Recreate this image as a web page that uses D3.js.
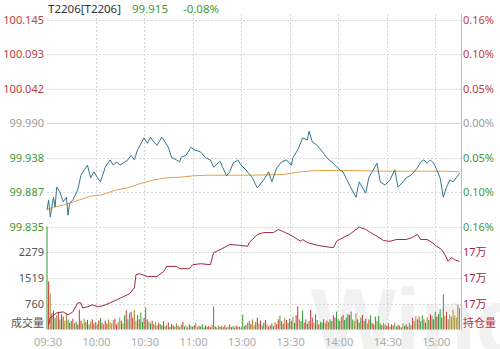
<!DOCTYPE html>
<html>
<head>
<meta charset="utf-8">
<script src="https://cdn.jsdelivr.net/npm/d3@7/dist/d3.min.js"></script>
<style>
  body { margin: 0; background: #fff; }
  text { font-family: "Noto Sans", "Noto Sans CJK SC", sans-serif; }
</style>
</head>
<body>
<div class="chart"></div>
<script>
// T2206 intraday chart

const code = "T2206[T2206]";
const lastPrice = 99.915;
const preClose = 99.990;
const timeLabels = ["09:30", "10:00", "10:30", "11:00", "13:00", "13:30", "14:00", "14:30", "15:00"];
const timeTicks = [0, 30, 60, 90, 120, 150, 180, 210, 240];

// price line (minute from 09:30, trading minutes only)
const priceMin = [0, 1, 2, 4, 5, 6, 8, 10, 12, 13, 14, 16, 19, 21, 23, 25, 27, 29, 31, 33, 34, 36, 39, 41, 43, 45, 47, 50, 52, 54, 56, 60, 62, 64, 66, 68, 71, 73, 75, 77, 80, 82, 83, 86, 89, 91, 95, 98, 101, 103, 107, 108, 111, 113, 115, 118, 120, 123, 127, 130, 134, 137, 139, 142, 145, 148, 151, 152, 155, 158, 161, 162, 164, 167, 170, 173, 176, 178, 181, 183, 187, 191, 193, 197, 199, 201, 204, 206, 209, 212, 215, 217, 220, 222, 225, 229, 231, 233, 235, 237, 239, 241, 243, 245, 247, 249, 251, 253, 255];
const priceVal = [99.860, 99.875, 99.849, 99.879, 99.864, 99.894, 99.887, 99.872, 99.879, 99.852, 99.870, 99.875, 99.890, 99.912, 99.920, 99.927, 99.908, 99.917, 99.909, 99.902, 99.909, 99.924, 99.935, 99.927, 99.932, 99.927, 99.930, 99.935, 99.942, 99.935, 99.950, 99.968, 99.960, 99.969, 99.962, 99.957, 99.969, 99.962, 99.954, 99.939, 99.935, 99.932, 99.939, 99.942, 99.954, 99.950, 99.947, 99.938, 99.935, 99.924, 99.933, 99.927, 99.911, 99.917, 99.930, 99.935, 99.927, 99.920, 99.908, 99.893, 99.905, 99.917, 99.902, 99.923, 99.932, 99.935, 99.927, 99.938, 99.950, 99.968, 99.965, 99.978, 99.962, 99.957, 99.948, 99.938, 99.932, 99.927, 99.920, 99.917, 99.897, 99.879, 99.902, 99.885, 99.909, 99.917, 99.930, 99.902, 99.897, 99.905, 99.920, 99.894, 99.902, 99.908, 99.912, 99.923, 99.932, 99.935, 99.930, 99.935, 99.930, 99.920, 99.908, 99.879, 99.894, 99.905, 99.902, 99.908, 99.915];

// average price line
const avgMin = [0, 4, 8, 14, 20, 28, 33, 43, 50, 57, 66, 74, 82, 90, 99, 113, 125, 146, 156, 167, 187, 208, 229, 249, 255];
const avgVal = [99.860, 99.864, 99.866, 99.870, 99.875, 99.881, 99.882, 99.890, 99.893, 99.899, 99.905, 99.908, 99.909, 99.911, 99.912, 99.912, 99.912, 99.913, 99.917, 99.919, 99.919, 99.918, 99.918, 99.918, 99.917];

// open interest
const oiMin = [1, 2, 6, 10, 13, 16, 19, 21, 22, 25, 28, 32, 36, 39, 43, 47, 51, 54, 55, 57, 62, 68, 72, 74, 80, 82, 88, 90, 95, 101, 103, 107, 113, 119, 124, 125, 130, 134, 140, 143, 146, 152, 155, 157, 158, 161, 167, 173, 177, 179, 183, 187, 191, 193, 197, 200, 204, 208, 212, 216, 222, 226, 229, 231, 235, 238, 241, 244, 246, 248, 250, 252, 255];
const oiVal = [166350, 166900, 167290, 167370, 167130, 167370, 168070, 168070, 167680, 167760, 167910, 167760, 167910, 168070, 168300, 168540, 168770, 169240, 170250, 170330, 170120, 170120, 170490, 170900, 170900, 170720, 170720, 171030, 171110, 171030, 171970, 172200, 172600, 172540, 172460, 172750, 173380, 173530, 173530, 173770, 173610, 173240, 172990, 172850, 172990, 172750, 172540, 172420, 172360, 172850, 173140, 173380, 173770, 173950, 173770, 173530, 173240, 172910, 172850, 172990, 172990, 173160, 173380, 172990, 172990, 172750, 172460, 172200, 171810, 171290, 171580, 171420, 171290];

// volume per minute, 09:30 .. 15:15
const volumes = [
  3100, 1420, 1060, 480, 560, 350, 420, 520, 300, 450,
  380, 260, 480, 300, 200, 250, 320, 180, 230, 150,
  580, 260, 180, 320, 220, 280, 150, 240, 300, 180,
  220, 160, 270, 340, 200, 150, 260, 180, 300, 220,
  180, 280, 320, 150, 220, 350, 260, 180, 420, 560,
  300, 480, 520, 350, 580, 260, 420, 300, 500, 220,
  350, 650, 300, 240, 180, 260, 150, 220, 120, 200,
  160, 120, 250, 100, 140, 200, 80, 160, 120, 90,
  180, 110, 70, 140, 220, 90, 120, 60, 150, 100,
  80, 130, 200, 70, 110, 90, 160, 60, 120, 80,
  100, 70, 140, 680, 90, 60, 120, 80, 110, 70,
  130, 60, 90, 150, 70, 100, 60, 120, 80, 90,
  60, 430, 100, 140, 200, 250, 160, 300, 120, 220,
  350, 180, 260, 120, 200, 280, 150, 90, 120, 180,
  100, 220, 160, 300, 400, 250, 180, 350, 280, 200,
  320, 260, 380, 200, 420, 680, 300, 250, 560, 200,
  300, 180, 250, 580, 350, 200, 450, 280, 150, 230,
  200, 300, 180, 260, 220, 300, 250, 420, 350, 530,
  300, 250, 380, 430, 280, 350, 450, 430, 530, 300,
  250, 480, 300, 200, 350, 430, 250, 320, 180, 300,
  420, 200, 150, 380, 250, 400, 180, 120, 200, 150,
  100, 180, 80, 150, 120, 200, 90, 140, 110, 60,
  180, 100, 150, 80, 200, 120, 350, 250, 400, 300,
  380, 250, 420, 300, 200, 350, 280, 450, 400, 300,
  520, 380, 450, 600, 350, 1030, 400, 520, 300, 450,
  380, 580, 420, 350, 730, 630
];
// u = up, d = down, f = flat
const dirs = "dufuudfuduuffdudufdu" + "uuffdudfuufdudufuuff" + "ffuuffufdudfuuffdudd" + "udufdudffuduudfuduud" +
             "fuddudfuudduffudddud" + "uufdudfuddudfuudduuf" + "uddufduffdufuddufuud" + "dfuuddufuddufduufddu" +
             "udduufdduddufufdduud" + "dufudduuddffuddudufu" + "duudfddufduuduufdudu" + "fduufduffdudduufdudu" +
             "duddudfu";
const volTop = 3038.6;

const width = 500, height = 349;
const left = 47, right = 461;
const priceTop = 20, priceBottom = 226.5, volBottom = 329.5;

const svg = d3.select('.chart')
              .append('svg')
              .attr('width', width)
              .attr('height', height);

// scales
const x = d3.scaleLinear().domain([0, 255]).range([left, 459.5]);
const step = (100.145 - preClose) / 3;
const y = d3.scaleLinear().domain([preClose - 3 * step, preClose + 3 * step]).range([priceBottom, priceTop]);
const yVol = d3.scaleLinear().domain([0, volTop]).range([volBottom, priceBottom]);
const yOi = d3.scaleLinear().domain([166000, 174000]).range([volBottom, priceBottom]);

const red = "#c0403c", green = "#3f9a35", gray = "#9a9a9a";

// watermark
svg.append("text")
   .attr("x", 311).attr("y", 352)
   .attr("font-size", 90)
   .attr("font-weight", "bold")
   .style("font-family", "Liberation Sans, Arial, sans-serif")
   .attr("fill", "#f1f1f1")
   .text("Wind");

// horizontal grid
const priceTicks = d3.range(-3, 4).map(k => preClose + k * step);
const volTicks = d3.range(1, 4).map(k => volTop / 4 * k);
svg.append("g")
   .selectAll("line")
   .data(priceTicks.map(v => y(v)).concat(volTicks.map(v => yVol(v))))
   .enter()
   .append("line")
   .attr("x1", left).attr("x2", right)
   .attr("y1", d => Math.round(d) + 0.5).attr("y2", d => Math.round(d) + 0.5)
   .attr("stroke", "#d6d6d6")
   .attr("stroke-dasharray", (d, i) => i === 3 ? null : "2,2");

// vertical grid
svg.append("g")
   .selectAll("line")
   .data(timeTicks.slice(1))
   .enter()
   .append("line")
   .attr("x1", d => Math.round(x(d)) + 0.5).attr("x2", d => Math.round(x(d)) + 0.5)
   .attr("y1", 14).attr("y2", volBottom)
   .attr("stroke", "#d6d6d6")
   .attr("stroke-dasharray", "2,2");

// right border
svg.append("line")
   .attr("x1", right + 0.5).attr("x2", right + 0.5)
   .attr("y1", 14).attr("y2", volBottom + 1)
   .attr("stroke", "#bdbdbd");

// volume bars
const barColor = {u: "#c8362f", d: "#2f9a2f", f: "#a08a2c"};
svg.append("g")
   .selectAll("rect")
   .data(volumes)
   .enter()
   .append("rect")
   .attr("x", (d, i) => x(i) - 0.5)
   .attr("width", 1)
   .attr("y", d => yVol(Math.min(d, volTop)))
   .attr("height", d => volBottom - yVol(Math.min(d, volTop)))
   .attr("fill", (d, i) => barColor[dirs[i]] || barColor.f);

// open interest line
svg.append("path")
   .datum(oiMin.map((m, i) => [m, oiVal[i]]))
   .attr("d", d3.line().x(d => x(d[0])).y(d => yOi(d[1])))
   .attr("fill", "none")
   .attr("stroke", "#a3283c")
   .attr("stroke-width", 1);

// average line
svg.append("path")
   .datum(avgMin.map((m, i) => [m, avgVal[i]]))
   .attr("d", d3.line().x(d => x(d[0])).y(d => y(d[1])))
   .attr("fill", "none")
   .attr("stroke", "#e0a24a")
   .attr("stroke-width", 1);

// price line
svg.append("path")
   .datum(priceMin.map((m, i) => [m, priceVal[i]]))
   .attr("d", d3.line().x(d => x(d[0])).y(d => y(d[1])))
   .attr("fill", "none")
   .attr("stroke", "#35768f")
   .attr("stroke-width", 1);

// left price labels
const tickColor = v => Math.abs(v - preClose) < 1e-6 ? gray : (v > preClose ? red : green);
svg.append("g")
   .selectAll("text")
   .data(priceTicks)
   .enter()
   .append("text")
   .attr("x", 44).attr("y", d => y(d) + 4)
   .attr("text-anchor", "end")
   .attr("font-size", 11)
   .attr("fill", tickColor)
   .text(d => d.toFixed(3));

// right percent labels
svg.append("g")
   .selectAll("text")
   .data(priceTicks)
   .enter()
   .append("text")
   .attr("x", 463).attr("y", d => y(d) + 4)
   .attr("font-size", 11)
   .attr("fill", tickColor)
   .text(d => Math.abs((d - preClose) / preClose * 100).toFixed(2) + "%");

// volume labels
svg.append("g")
   .selectAll("text")
   .data(volTicks)
   .enter()
   .append("text")
   .attr("x", 44).attr("y", d => yVol(d) + 4)
   .attr("text-anchor", "end")
   .attr("font-size", 11)
   .attr("fill", "#555")
   .text(d => Math.round(d));
svg.append("text")
   .attr("x", 44).attr("y", 327)
   .attr("text-anchor", "end")
   .attr("font-size", 11)
   .attr("fill", "#555")
   .text("成交量");

// open interest labels
svg.append("g")
   .selectAll("text")
   .data(volTicks)
   .enter()
   .append("text")
   .attr("x", 463).attr("y", d => yVol(d) + 4)
   .attr("font-size", 11)
   .attr("fill", "#a3283c")
   .text(d => Math.round(yOi.invert(yVol(d)) / 10000) + "万");
svg.append("text")
   .attr("x", 463).attr("y", 327)
   .attr("font-size", 11)
   .attr("fill", "#c0304a")
   .text("持仓量");

// time labels
svg.append("g")
   .selectAll("text")
   .data(timeTicks)
   .enter()
   .append("text")
   .attr("x", d => x(d) + 1).attr("y", 346)
   .attr("text-anchor", "middle")
   .attr("font-size", 11)
   .attr("fill", "#aaa")
   .text((d, i) => timeLabels[i]);

// title
const title = svg.append("text").attr("y", 13).attr("font-size", 11.5);
title.append("tspan").attr("x", 48).attr("fill", "#333").text(code);
title.append("tspan").attr("x", 132).attr("fill", green).text(lastPrice.toFixed(3));
title.append("tspan").attr("x", 183).attr("fill", green)
     .text(((lastPrice - preClose) / preClose * 100).toFixed(2) + "%");
</script>
</body>
</html>
